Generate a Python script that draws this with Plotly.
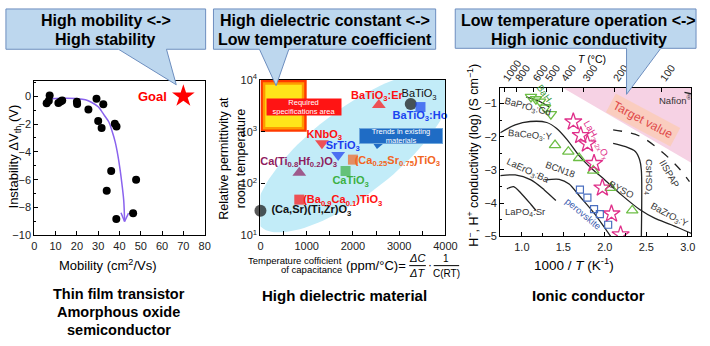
import numpy as np
import plotly.graph_objects as go

W, H = 710, 346
def PX(x): return x / W
def PY(y): return 1 - y / H

FONT = "Arial, Liberation Sans, Helvetica, sans-serif"

# ---------------- Panel 1 : thin film transistor ----------------
MOBILITY = [5.8, 6.8, 7.2, 11.3, 12.3, 13.1, 20.0, 20.1, 25.4, 29.2, 32.4, 30.0, 31.6, 37.8, 38.6, 36.1, 34.0, 47.8, 38.5, 46.4]
DELTA_VTH = [-0.5, -0.32, 0.05, -0.48, -0.38, -0.3, -0.4, -0.55, -0.95, -0.18, -0.58, -1.78, -2.28, -1.98, -2.17, -5.38, -6.8, -6.0, -8.82, -8.4]
TREND1_X = [6.2, 10, 15, 20, 24, 27, 30, 31.5, 33, 35, 36.5, 38, 39.3, 40.4, 41.3, 42.0, 42.4]
TREND1_Y = [-0.2, -0.17, -0.15, -0.17, -0.25, -0.45, -0.75, -1.05, -1.4, -1.85, -2.5, -3.3, -4.3, -5.4, -6.5, -7.5, -9.0]
ARROW1_X = [40.7, 42.4, 44.25]
ARROW1_Y = [-8.37, -9.0, -8.4]
GOAL_X = [70]
GOAL_Y = [0]

# ---------------- Panel 2 : high dielectric material ----------------
MATERIALS = ["(Ca,Sr)(Ti,Zr)O3", "(Ba0.9Ca0.1)TiO3", "Ca(Ti0.8Hf0.2)O3", "CaTiO3", "(Ca0.25Sr0.75)TiO3",
             "SrTiO3", "KNbO3", "BaTiO3:Er", "BaTiO3", "BaTiO3:Ho"]
TCC = [0, 840, 840, 1840, 2000, 1680, 1330, 2560, 3250, 3460]
PERMITTIVITY = [30, 49, 162, 175, 290, 355, 600, 3300, 3450, 3000]
SYMBOLS = ["circle", "square", "triangle-up", "square", "square", "triangle-down", "triangle-down",
           "triangle-up", "circle", "square"]
COLORS2 = ["#111111", "#FF1010", "#8E1C5E", "#3CB043", "#F26522", "#1A3CF0", "#FF1010", "#FF1010", "#111111", "#1A44F0"]
SIZES2 = [12, 10, 12, 10, 10, 12, 12, 12, 12, 10]
LABELS2 = ["<b>(Ca,Sr)(Ti,Zr)O<sub>3</sub></b>", "<b>(Ba<sub>0.9</sub>Ca<sub>0.1</sub>)TiO<sub>3</sub></b>",
           "<b>Ca(Ti<sub>0.8</sub>Hf<sub>0.2</sub>)O<sub>3</sub></b>", "<b>CaTiO<sub>3</sub></b>",
           "<b>(Ca<sub>0.25</sub>Sr<sub>0.75</sub>)TiO<sub>3</sub></b>", "<b>SrTiO<sub>3</sub></b>",
           "<b>KNbO<sub>3</sub></b>", "<b>BaTiO<sub>3</sub>:Er</b>", "BaTiO<sub>3</sub>", "<b>BaTiO<sub>3</sub>:Ho</b>"]
LABEL2_X = [1100, 1780, 825, 1950, 2960, 1780, 1380, 2520, 3430, 3450]
LABEL2_Y = [30, 47, 257, 110, 270, 525, 870, 4900, 5250, 2000]
REQ_X = [0, 1000]
REQ_Y = [1e3, 1e4]

# ---------------- Panel 3 : ionic conductor ----------------
T_CELSIUS = [1000, 800, 600, 500, 400, 300, 200, 100]
BAH2_X = [1.11, 1.17, 1.22, 1.28, 1.35]
BAH2_Y = [-0.8, -0.87, -0.94, -1.12, -1.32]
TRI_X = [1.40, 1.56, 1.69, 1.86, 2.07, 2.33]
TRI_Y = [-2.25, -2.45, -2.64, -3.02, -3.54, -4.22]
STAR_X = [1.62, 1.71, 1.79, 1.87, 1.97, 2.08, 2.19]
STAR_Y = [-1.55, -1.96, -2.21, -2.8, -3.54, -4.32, -4.95]
PEROV_X = [1.70, 1.79, 1.87, 1.94, 2.04]
PEROV_Y = [-3.59, -3.83, -4.18, -4.33, -4.65]
BACEO_X = [0.74, 0.92, 1.1, 1.3, 1.42, 1.55, 1.7, 1.85, 2.0, 2.2, 2.42, 2.6, 2.8, 3.05]
BACEO_Y = [-1.88, -1.64, -1.54, -1.57, -1.75, -2.1, -2.6, -2.98, -3.3, -3.75, -4.19, -4.45, -4.65, -4.92]
LAERO_X = [0.74, 0.92, 1.11, 1.27, 1.41]
LAERO_Y = [-3.17, -3.15, -3.3, -3.6, -3.92]
LAPO_X = [0.82, 0.9, 0.99, 1.11, 1.17]
LAPO_Y = [-3.57, -3.5, -3.7, -4.04, -4.22]
BCN_X = [1.28, 1.45, 1.57, 1.7, 1.87, 2.07]
BCN_Y = [-3.3, -3.28, -3.42, -3.8, -4.3, -5.0]
CSHSO_X = [2.1, 2.25, 2.37, 2.42, 2.44, 2.44]
CSHSO_Y = [-2.2, -2.3, -2.45, -2.7, -3.0, -5.0]
SPAP_X = [2.1, 2.42, 2.69, 2.89, 3.02]
SPAP_Y = [-1.79, -1.98, -2.46, -2.94, -3.35]
NAFION_X = [2.96, 3.1]
NAFION_Y = [-0.66, -0.74]
BAPRO_X = [1.05, 1.2, 1.33]
BAPRO_Y = [-0.8, -0.92, -1.1]
TARGET_X = [1.34, 3.2, 3.2]
TARGET_Y = [-0.3, -3.02, -0.3]

fig = go.Figure()

# ---- panel 1 traces
fig.add_trace(go.Scatter(x=TREND1_X, y=TREND1_Y, mode="lines", line=dict(color="#8A63EE", width=1.5, shape="spline"),
                         xaxis="x", yaxis="y", hoverinfo="skip"))
fig.add_trace(go.Scatter(x=ARROW1_X, y=ARROW1_Y, mode="lines", line=dict(color="#8A63EE", width=1.5),
                         xaxis="x", yaxis="y", hoverinfo="skip"))
fig.add_trace(go.Scatter(x=MOBILITY, y=DELTA_VTH, mode="markers", marker=dict(color="black", size=8),
                         xaxis="x", yaxis="y"))
fig.add_trace(go.Scatter(x=GOAL_X, y=GOAL_Y, mode="markers", marker=dict(color="#FF0000", size=17, symbol="star"),
                         xaxis="x", yaxis="y", cliponaxis=False))

# ---- panel 2 traces
# ellipse of existing trends (in pixel-like axis units)
t = np.linspace(0, 2 * np.pi, 120)
cx, cy = 2000.0, 2.6          # x in ppm/°C, y in log10
a_px, b_px, ang = 122.0, 44.0, np.deg2rad(38.5)
ex_px = a_px * np.cos(t) * np.cos(ang) - b_px * np.sin(t) * np.sin(ang)
ey_px = a_px * np.cos(t) * np.sin(ang) + b_px * np.sin(t) * np.cos(ang)
xs_per_px = 4000 / 189.0
ys_per_px = 1 / 54.0
ell_x = cx + ex_px * xs_per_px
ell_y = 10 ** (cy + ey_px * ys_per_px)
fig.add_trace(go.Scatter(x=ell_x, y=ell_y, mode="lines", fill="toself", fillcolor="#C2ECF8",
                         line=dict(width=0, color="#C2ECF8"), xaxis="x2", yaxis="y2", hoverinfo="skip"))
# required specification area (layers for glow)
for inset, col in [(0, "#FF3A00"), (2.5, "#FF9A00"), (5, "#FFE51A")]:
    x0, x1 = REQ_X[0] + inset * xs_per_px, REQ_X[1] - inset * xs_per_px
    y0, y1 = 10 ** (np.log10(REQ_Y[0]) + inset * ys_per_px), 10 ** (np.log10(REQ_Y[1]) - inset * ys_per_px)
    fig.add_trace(go.Scatter(x=[x0, x1, x1, x0, x0], y=[y0, y0, y1, y1, y0], mode="lines", fill="toself",
                             fillcolor=col, line=dict(width=0, color=col), xaxis="x2", yaxis="y2", hoverinfo="skip"))
fig.add_trace(go.Scatter(x=TCC, y=PERMITTIVITY, mode="markers",
                         marker=dict(symbol=SYMBOLS, color=COLORS2, size=SIZES2, line=dict(width=0)),
                         xaxis="x2", yaxis="y2", cliponaxis=False, text=MATERIALS))
fig.add_trace(go.Scatter(x=LABEL2_X, y=LABEL2_Y, mode="text", text=LABELS2,
                         textfont=dict(family=FONT, size=11, color=COLORS2), xaxis="x2", yaxis="y2",
                         cliponaxis=False, hoverinfo="skip"))

# ---- panel 3 traces
fig.add_trace(go.Scatter(x=TARGET_X, y=TARGET_Y, mode="lines", fill="toself", fillcolor="#F6D2E4",
                         line=dict(width=0, color="#F6D2E4"), xaxis="x3", yaxis="y3", hoverinfo="skip"))
for xs, ys in [(BACEO_X, BACEO_Y), (LAERO_X, LAERO_Y), (LAPO_X, LAPO_Y), (BCN_X, BCN_Y),
               (CSHSO_X, CSHSO_Y), (BAPRO_X, BAPRO_Y)]:
    fig.add_trace(go.Scatter(x=xs, y=ys, mode="lines", line=dict(color="#222222", width=1.3, shape="spline", smoothing=0.8),
                             xaxis="x3", yaxis="y3", hoverinfo="skip"))
for xs, ys in [(SPAP_X, SPAP_Y), (NAFION_X, NAFION_Y)]:
    fig.add_trace(go.Scatter(x=xs, y=ys, mode="lines", line=dict(color="#222222", width=1.3, dash="dash", shape="spline"),
                             xaxis="x3", yaxis="y3", hoverinfo="skip"))
fig.add_trace(go.Scatter(x=BAH2_X, y=BAH2_Y, mode="markers",
                         marker=dict(symbol="triangle-down-open", color="#6DBE45", size=10, line=dict(width=1.3)),
                         xaxis="x3", yaxis="y3"))
fig.add_trace(go.Scatter(x=TRI_X, y=TRI_Y, mode="markers",
                         marker=dict(symbol="triangle-up-open", color="#6DBE45", size=10, line=dict(width=1.3)),
                         xaxis="x3", yaxis="y3"))
fig.add_trace(go.Scatter(x=STAR_X, y=STAR_Y, mode="markers",
                         marker=dict(symbol="star-open", color="#E0308A", size=13, line=dict(width=1.3)),
                         xaxis="x3", yaxis="y3"))
fig.add_trace(go.Scatter(x=PEROV_X, y=PEROV_Y, mode="markers",
                         marker=dict(symbol="square-open", color="#4A6FC0", size=7, line=dict(width=1.2)),
                         xaxis="x3", yaxis="y3"))
TOP_TICKS = [1000.0 / (tc + 273.15) for tc in T_CELSIUS]
fig.add_trace(go.Scatter(x=TOP_TICKS, y=[-10] * len(TOP_TICKS), mode="markers", marker=dict(opacity=0),
                         xaxis="x4", yaxis="y3", hoverinfo="skip"))

axis_common = dict(showline=True, linecolor="black", linewidth=1.2, mirror=True, ticks="inside",
                   tickcolor="black", ticklen=4, showgrid=False, zeroline=False,
                   tickfont=dict(family=FONT, size=11, color="#222"))

fig.update_layout(
    width=W, height=H, margin=dict(l=0, r=0, t=0, b=0),
    paper_bgcolor="white", plot_bgcolor="white", showlegend=False,
    font=dict(family=FONT, color="black"),
    xaxis=dict(domain=[PX(32), PX(206)], range=[0, 80], dtick=10, tick0=0, anchor="y", **axis_common),
    yaxis=dict(domain=[PY(237), PY(76)], range=[-10, 1.1], dtick=2, tick0=0, anchor="x",
               minor=dict(ticks="inside", dtick=1, ticklen=2, tickcolor="black"), **axis_common),
    xaxis2=dict(domain=[PX(263), PX(452)], range=[0, 4000], tickvals=[0, 1000, 2000, 3000, 4000], anchor="y2",
                minor=dict(ticks="inside", dtick=500, ticklen=4, tickcolor="black"), **axis_common),
    yaxis2=dict(domain=[PY(237), PY(75)], type="log", range=[1, 4], tickvals=[10, 100, 1000, 10000],
                ticktext=["10<sup>1</sup>", "10<sup>2</sup>", "10<sup>3</sup>", "10<sup>4</sup>"], anchor="x2",
                **axis_common),
    xaxis3=dict(domain=[PX(508), PX(703)], range=[0.74, 3.04], dtick=0.5, tick0=0, tickformat=".1f", anchor="y3",
                minor=dict(ticks="inside", dtick=0.25, ticklen=3, tickcolor="black"), **axis_common),
    yaxis3=dict(domain=[PY(238), PY(83)], range=[-5, -0.52], dtick=1, tick0=0, anchor="x3",
                minor=dict(ticks="inside", dtick=0.5, ticklen=2, tickcolor="black"), **axis_common),
    xaxis4=dict(domain=[PX(508), PX(703)], range=[0.74, 3.04], overlaying="x3", side="top", anchor="y3",
                tickvals=TOP_TICKS, ticktext=[str(v) for v in T_CELSIUS], tickangle=-55,
                ticks="inside", ticklen=4, tickcolor="black", showgrid=False, zeroline=False, showline=False,
                tickfont=dict(family=FONT, size=10.5, color="#222")),
)

ann = []
def A(x, y, text, size=12, color="black", xanchor="center", yanchor="middle", angle=0, **kw):
    ann.append(dict(x=PX(x), y=PY(y), xref="paper", yref="paper", text=text, showarrow=False,
                    font=dict(family=FONT, size=size, color=color), xanchor=xanchor, yanchor=yanchor,
                    textangle=angle, **kw))

# callout boxes
shapes = []
def callout(x0, x1, y0, y1, b0, b1, ax, ay):
    path = (f"M{PX(x0)},{PY(y0)} L{PX(x1)},{PY(y0)} L{PX(x1)},{PY(y1)} L{PX(b1)},{PY(y1)} "
            f"L{PX(ax)},{PY(ay)} L{PX(b0)},{PY(y1)} L{PX(x0)},{PY(y1)} Z")
    shapes.append(dict(type="path", path=path, xref="paper", yref="paper", fillcolor="#BDD7EE",
                       line=dict(color="#6D8EBF", width=1), layer="above"))
callout(3, 207, 1, 43, 118, 167, 177, 80)
callout(215, 442, 1, 43, 262, 292, 279, 81)
callout(462, 708, 1, 42, 637, 672, 637, 90)

A(105, 13, "<b>High mobility &lt;-&gt;</b>", 16)
A(105, 33, "<b>High stability</b>", 16)
A(329, 13, "<b>High dielectric constant &lt;-&gt;</b>", 16)
A(329, 33, "<b>Low temperature coefficient</b>", 16)
A(588, 13, "<b>Low temperature operation &lt;-&gt;</b>", 16)
A(588, 33, "<b>High ionic conductivity</b>", 16)

# panel 1 text
ann.append(dict(x=55.5, y=0, xref="x", yref="y", text="<b>Goal</b>", showarrow=False,
                font=dict(family=FONT, size=13, color="#FF0000")))
A(12, 155, "Instability ΔV<sub>th</sub> (V)", 13, angle=-90)
A(107, 268, "Mobility (cm<sup>2</sup>/Vs)", 13)
A(118, 298, "<b>Thin film transistor</b>", 14.5)
A(118, 317, "<b>Amorphous oxide</b>", 14.5)
A(118, 336, "<b>semiconductor</b>", 14.5)

# panel 2 text
A(234, 157, "Relative permittivity at<br>room temperature", 12.5, angle=-90)
A(348, 263, "Temperature cofficient", 9.5, xanchor="right")
A(348, 273, "of capacitance", 9.5, xanchor="right")
A(381, 268, "(ppm/°C)=", 13)
A(423, 261, "<i>ΔC</i>", 11)
A(423, 276, "<i>ΔT</i>", 11)
A(436, 268, "·", 12)
A(453, 261, "1", 10)
A(453, 277, "C(RT)", 10)
shapes.append(dict(type="line", xref="paper", yref="paper", x0=PX(415), x1=PX(432), y0=PY(268.5), y1=PY(268.5),
                   line=dict(color="black", width=1)))
shapes.append(dict(type="line", xref="paper", yref="paper", x0=PX(440), x1=PX(466), y0=PY(268.5), y1=PY(268.5),
                   line=dict(color="black", width=1)))
A(349, 300, "<b>High dielectric material</b>", 15)
ann.append(dict(x=PX(307), y=PY(94), xref="paper", yref="paper", text="Required<br>specifications area",
                showarrow=False, font=dict(family=FONT, size=7.5, color="white"), bgcolor="#FF1414",
                width=74, height=16, borderpad=0))
shapes.append(dict(type="path", xref="paper", yref="paper", fillcolor="#FF1414", line=dict(width=0),
                   path=f"M{PX(288)},{PY(101.5)} L{PX(298)},{PY(101.5)} L{PX(290)},{PY(109)} Z"))
ann.append(dict(x=PX(406.5), y=PY(133), xref="paper", yref="paper", text="Trends in existing<br>materials",
                showarrow=False, font=dict(family=FONT, size=7.5, color="white"), bgcolor="#1F6CC5",
                bordercolor="#6FA8DC", borderwidth=1, width=82, height=14, borderpad=0))
shapes.append(dict(type="path", xref="paper", yref="paper", fillcolor="#1F6CC5", line=dict(width=0),
                   path=f"M{PX(378)},{PY(141)} L{PX(389)},{PY(141)} L{PX(382)},{PY(147)} Z"))

# panel 3 text
A(480, 153, "H<sup>−</sup>, H<sup>+</sup> conductivity (log) (S cm<sup>−1</sup>)", 12.5, angle=-90)
A(583, 267, "1000 / <i>T</i> (K<sup>-1</sup>)", 13.5)
A(602, 53, "<i>T</i> (°C)", 10.5)
A(598, 300, "<b>Ionic conductor</b>", 15)
lab3 = [
    (1.28, -0.74, "BaH<sub>2</sub>", "#3A9A3A", 55),
    (1.08, -1.1, "BaPrO<sub>3</sub>:Gd", "#333", 15),
    (1.1, -1.95, "BaCeO<sub>3</sub>:Y", "#333", 5),
    (1.08, -3.03, "LaErO<sub>3</sub>:Ba", "#333", 25),
    (1.04, -4.28, "LaPO<sub>4</sub>:Sr", "#333", 0),
    (1.47, -2.98, "BCN18", "#333", 20),
    (1.74, -4.3, "perovskite", "#4060B0", 40),
    (1.9, -2.1, "LaH<sub>3−2x</sub>O<sub>x</sub>", "#E0308A", 60),
    (2.2, -3.6, "BYSO", "#333", 28),
    (2.54, -3.2, "CsHSO<sub>4</sub>", "#333", 90),
    (2.78, -3.1, "IISPAP", "#333", 60),
    (2.78, -4.35, "BaZrO<sub>3</sub>:Y", "#333", 28),
    (2.85, -0.88, "Nafion<sup>®</sup>", "#333", 0),
]
for x, y, txt, col, angv in lab3:
    ann.append(dict(x=x, y=y, xref="x3", yref="y3", text=txt, showarrow=False, textangle=angv,
                    font=dict(family=FONT, size=9.5, color=col)))
ann.append(dict(x=2.46, y=-1.5, xref="x3", yref="y3", text="Target value", showarrow=False, textangle=28,
                font=dict(family=FONT, size=12, color="#E04848"), bgcolor="rgba(250,205,185,0.85)", borderpad=3))

fig.update_layout(annotations=ann, shapes=shapes)
fig.write_html("out.html")
